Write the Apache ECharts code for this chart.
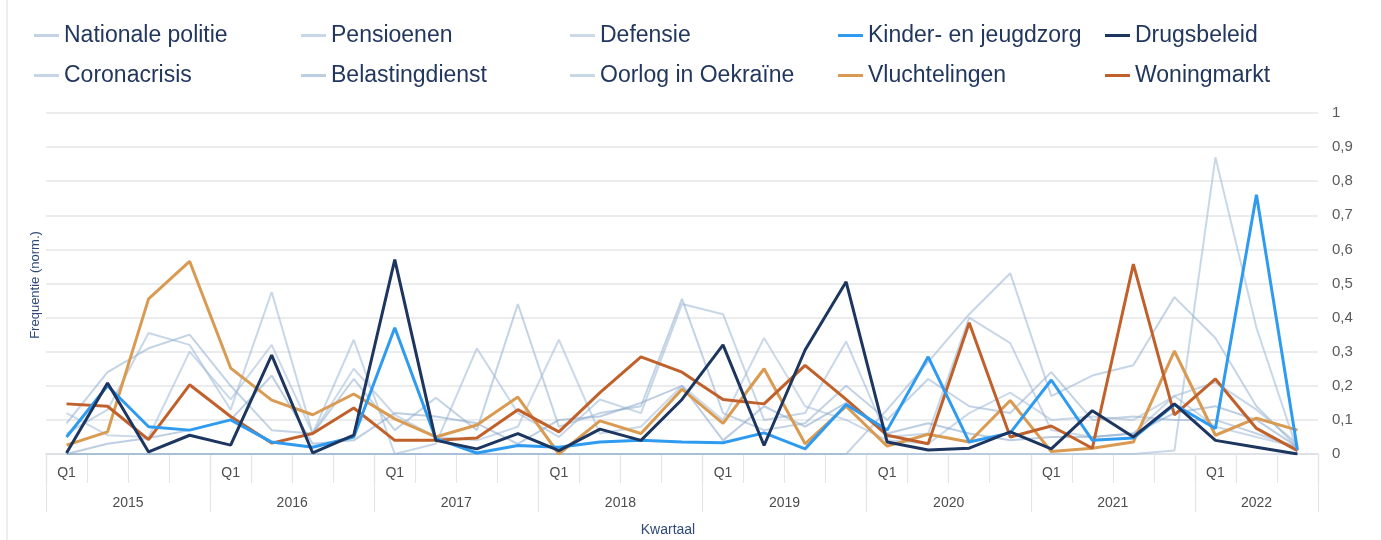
<!DOCTYPE html>
<html>
<head>
<meta charset="utf-8">
<script src="https://cdn.jsdelivr.net/npm/echarts@6/dist/echarts.min.js"></script>
<style>
html,body{margin:0;padding:0;background:#fff;}
#chart{width:1381px;height:540px;}
</style>
</head>
<body>
<div id="chart"></div>
<script>
const years = ['2015','2016','2017','2018','2019','2020','2021','2022'];
const quarterNames = ['Q1','Q2','Q3','Q4'];
const quarters = [];
years.forEach(function (y) { quarterNames.forEach(function (q) { quarters.push(y + ' ' + q); }); });
quarters.length = 31; // 2015 Q1 .. 2022 Q3

const yTicks = [0, 0.1, 0.2, 0.3, 0.4, 0.5, 0.6, 0.7, 0.8, 0.9, 1];

const nationalePolitie = [0.09,0.24,0.31,0.35,0.20,0.07,0.06,0.22,0.07,0.165,0.07,0.44,0.08,0.12,0.14,0.455,0.12,0.07,0.09,0.20,0.10,0.22,0.14,0.12,0.24,0.10,0.11,0.10,0.10,0.06,0.02];
const pensioenen = [0.06,0.13,0.355,0.32,0.13,0.475,0.06,0.335,0.0,0.03,0.31,0.12,0.05,0.16,0.12,0.44,0.41,0.10,0.12,0.33,0.05,0.06,0.40,0.325,0.07,0.05,0.06,0.17,0.21,0.13,0.03];
const defensie = [0.12,0.055,0.05,0.30,0.16,0.32,0.06,0.25,0.115,0.05,0.04,0.08,0.335,0.06,0.08,0.20,0.10,0.34,0.14,0.10,0.04,0.03,0.12,0.18,0.10,0.11,0.10,0.17,0.08,0.05,0.02];
const coronacrisis = [0,0,0,0,0,0,0,0,0,0,0,0,0,0,0,0,0,0,0,0,0.13,0.27,0.41,0.53,0.17,0.23,0.26,0.46,0.34,0.14,0.02];
const belastingdienst = [0.0,0.03,0.047,0.07,0.10,0.23,0.03,0.04,0.12,0.11,0.09,0.03,0.10,0.11,0.15,0.20,0.04,0.14,0.08,0.15,0.06,0.09,0.06,0.04,0.05,0.05,0.06,0.12,0.14,0.10,0.02];
const oorlogOekraine = [0,0,0,0,0,0,0,0,0,0,0,0,0,0,0,0,0,0,0,0,0,0,0,0,0,0,0,0.01,0.87,0.37,0.01];
const kinderJeugdzorg = [0.05,0.2,0.08,0.07,0.1,0.035,0.02,0.05,0.37,0.045,0.003,0.025,0.02,0.035,0.04,0.035,0.033,0.062,0.015,0.145,0.07,0.285,0.035,0.062,0.217,0.04,0.047,0.145,0.075,0.76,0.012];
const drugsbeleid = [0.003,0.208,0.006,0.055,0.026,0.29,0.003,0.055,0.57,0.04,0.015,0.06,0.01,0.073,0.04,0.16,0.32,0.025,0.305,0.505,0.035,0.012,0.017,0.065,0.015,0.127,0.05,0.147,0.04,0.02,0.0];
const vluchtelingen = [0.026,0.065,0.455,0.565,0.252,0.158,0.115,0.176,0.103,0.05,0.085,0.167,0.0,0.097,0.06,0.19,0.09,0.25,0.03,0.14,0.023,0.058,0.035,0.157,0.007,0.017,0.035,0.302,0.055,0.105,0.07];
const woningmarkt = [0.147,0.14,0.042,0.203,0.11,0.032,0.06,0.135,0.04,0.04,0.047,0.13,0.065,0.18,0.285,0.24,0.16,0.147,0.26,0.16,0.055,0.03,0.385,0.05,0.082,0.017,0.557,0.115,0.22,0.075,0.01];

const seriesDefs = [
  {name:'Nationale politie', data:nationalePolitie, color:'rgba(145,174,206,0.55)', w:2, hi:false},
  {name:'Pensioenen', data:pensioenen, color:'rgba(155,182,212,0.55)', w:2, hi:false},
  {name:'Defensie', data:defensie, color:'rgba(160,186,214,0.55)', w:2, hi:false},
  {name:'Coronacrisis', data:coronacrisis, color:'rgba(150,178,208,0.55)', w:2, hi:false},
  {name:'Belastingdienst', data:belastingdienst, color:'rgba(135,166,202,0.55)', w:2, hi:false},
  {name:'Oorlog in Oekraïne', data:oorlogOekraine, color:'rgba(155,184,212,0.55)', w:2, hi:false},
  {name:'Vluchtelingen', data:vluchtelingen, color:'#d99a52', w:3, hi:true},
  {name:'Woningmarkt', data:woningmarkt, color:'#c0602a', w:3, hi:true},
  {name:'Kinder- en jeugdzorg', data:kinderJeugdzorg, color:'#2e9bf0', w:3, hi:true},
  {name:'Drugsbeleid', data:drugsbeleid, color:'#1d3660', w:3, hi:true}
];

const legendLayout = [
  ['Nationale politie', 34, 24], ['Pensioenen', 301, 24], ['Defensie', 570, 24], ['Kinder- en jeugdzorg', 838, 24], ['Drugsbeleid', 1105, 24],
  ['Coronacrisis', 34, 64], ['Belastingdienst', 301, 64], ['Oorlog in Oekraïne', 570, 64], ['Vluchtelingen', 838, 64], ['Woningmarkt', 1105, 64]
];

const FONT = 'Liberation Sans, Arial, sans-serif';
const chart = echarts.init(document.getElementById('chart'), null, {renderer:'canvas'});

const legends = legendLayout.map(function (l) {
  return {
    data:[l[0]], left:l[1], top:l[2], padding:0, itemGap:0,
    icon:'rect', itemWidth:25, itemHeight:3, selectedMode:false,
    textStyle:{fontSize:23, color:'#22375e', fontFamily:FONT}
  };
});

const option = {
  animation:false,
  backgroundColor:'#ffffff',
  legend: legends,
  grid:{left:46, right:63, top:113, bottom:86, containLabel:false},
  xAxis:[
    {
      type:'category', data:quarters, boundaryGap:true, position:'bottom',
      axisLine:{show:true, lineStyle:{color:'#dde2e8', width:2}},
      axisTick:{show:true, interval:0, length:29, lineStyle:{color:'#e2e5e9', width:1.2}},
      axisLabel:{interval:0, margin:12, fontSize:14, color:'#4d4d4d', fontFamily:FONT,
        formatter:function (v) { return v.slice(-2) === 'Q1' ? 'Q1' : ''; }},
      splitLine:{show:false}
    },
    {
      type:'category', data:quarters, boundaryGap:true, position:'bottom', gridIndex:0,
      axisLine:{show:false},
      axisTick:{show:true, length:58, lineStyle:{color:'#e2e5e9', width:1.2},
        interval:function (idx, v) { return v.slice(-2) === 'Q1'; }},
      axisLabel:{interval:0, margin:42, fontSize:14, color:'#4d4d4d', fontFamily:FONT,
        formatter:function (v, idx) {
          const y = v.slice(0,4);
          const q = v.slice(-2);
          if (y === '2022') return q === 'Q2' ? y : '';
          return q === 'Q2' ? '{s|' + y + '}' : '';
        },
        rich:{s:{padding:[0,0,0,41], fontSize:14, color:'#4d4d4d', fontFamily:FONT}}
      },
      splitLine:{show:false}
    }
  ],
  yAxis:{
    type:'value', position:'right', min:yTicks[0], max:yTicks[yTicks.length-1], interval:0.1,
    axisLine:{show:false}, axisTick:{show:false},
    axisLabel:{margin:14, fontSize:15, color:'#5a5a5a', fontFamily:FONT,
      formatter:function (v) { return (Math.round(v*10)/10).toString().replace('.', ','); }},
    splitLine:{lineStyle:{color:'#e4e6e9', width:1.5}}
  },
  graphic:[
    {type:'line', shape:{x1:7, y1:0, x2:7, y2:540}, style:{stroke:'#e8e8e8', lineWidth:1.5}, silent:true},
    {type:'text', x:35, y:285, rotation:Math.PI/2,
      style:{text:'Frequentie (norm.)', fontSize:13, fill:'#2f4a78', fontFamily:FONT, align:'center', verticalAlign:'middle'}},
    {type:'text', x:668, y:530,
      style:{text:'Kwartaal', fontSize:14, fill:'#2f4a78', fontFamily:FONT, align:'center', verticalAlign:'middle'}}
  ],
  series: seriesDefs.map(function (s, i) {
    return {
      name:s.name, type:'line', data:s.data, xAxisIndex:0, yAxisIndex:0,
      symbol:'none', smooth:false, z: s.hi ? 3 + i : 2,
      color:s.color,
      lineStyle:{color:s.color, width:s.w}
    };
  })
};
chart.setOption(option);
</script>
</body>
</html>
